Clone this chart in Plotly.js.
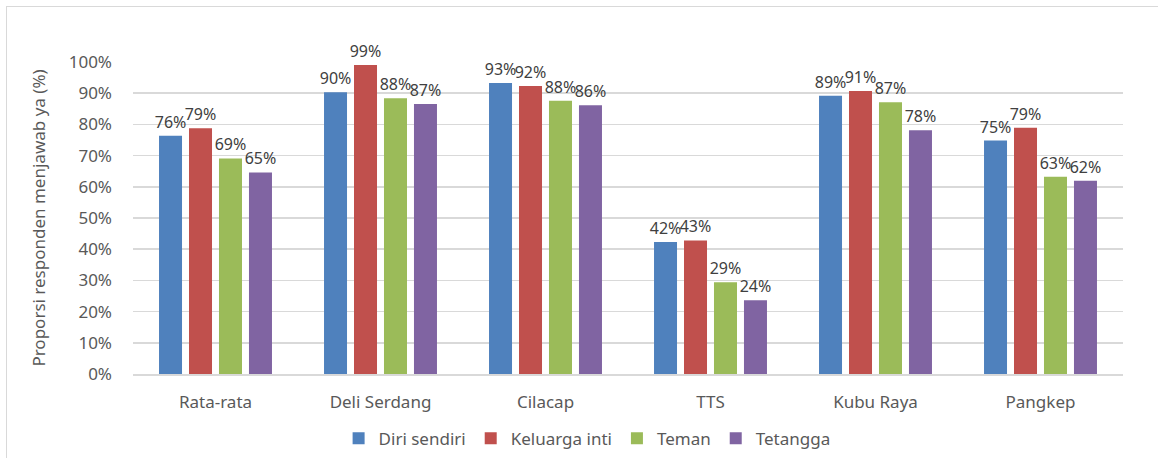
<!DOCTYPE html>
<html>
<head>
<meta charset="utf-8">
<script src="https://cdn.plot.ly/plotly-3.0.1.min.js"></script>
<style>
  html, body { margin: 0; padding: 0; background: #fff; }
  #wrap { position: relative; width: 1158px; height: 458px; }
  #chart { position: absolute; left: 0; top: 0; width: 1158px; height: 458px; }
  #frame { position: absolute; left: 6px; top: 6px; width: 1160px; height: 470px;
           border-left: 1px solid #d9d9d9; border-top: 1px solid #d9d9d9; pointer-events: none; }
</style>
</head>
<body>
<div id="wrap">
  <div id="chart"></div>
  <div id="frame"></div>
</div>
<script>
const categories = ["Rata-rata", "Deli Serdang", "Cilacap", "TTS", "Kubu Raya", "Pangkep"];
const diriSendiri   = [0.764, 0.903, 0.933, 0.423, 0.892, 0.748];
const keluargaInti  = [0.788, 0.990, 0.923, 0.428, 0.907, 0.789];
const teman         = [0.691, 0.884, 0.876, 0.294, 0.871, 0.632];
const tetangga      = [0.646, 0.865, 0.861, 0.236, 0.781, 0.619];
const seriesNames   = ["Diri sendiri", "Keluarga inti", "Teman", "Tetangga"];
const seriesColors  = ["#4F81BD", "#C0504D", "#9BBB59", "#8064A2"];
const seriesValues  = [diriSendiri, keluargaInti, teman, tetangga];

const FONT = "'Noto Sans', 'Open Sans', sans-serif";

const traces = seriesValues.map((vals, i) => ({
  type: "bar",
  name: seriesNames[i],
  x: categories,
  y: vals,
  marker: { color: seriesColors[i] },
  texttemplate: "%{y:.0%}",
  textposition: "outside",
  constraintext: "none",
  cliponaxis: false,
  textfont: { family: FONT, size: 16, color: "#404040" },
  hoverinfo: "skip"
}));

const layout = {
  width: 1158,
  height: 458,
  margin: { l: 133, r: 35, t: 62, b: 84 },
  paper_bgcolor: "#ffffff",
  plot_bgcolor: "#ffffff",
  barmode: "group",
  bargap: 0.273,
  bargroupgap: 0.233,
  font: { family: FONT, color: "#595959" },
  showlegend: true,
  legend: {
    orientation: "h",
    xref: "container", yref: "container",
    x: 0.507, xanchor: "center",
    y: 0.042, yanchor: "middle",
    font: { family: FONT, size: 17, color: "#595959" },
    itemwidth: 30,
    traceorder: "normal"
  },
  xaxis: {
    type: "category",
    showgrid: false,
    showline: true,
    linecolor: "#d9d9d9",
    linewidth: 1.5,
    ticks: "",
    ticklabelstandoff: 12,
    tickfont: { family: FONT, size: 17, color: "#595959" },
    fixedrange: true
  },
  yaxis: {
    range: [0, 1],
    dtick: 0.1,
    tick0: 0,
    tickformat: ".0%",
    showgrid: true,
    gridcolor: "#d9d9d9",
    gridwidth: 1.5,
    zeroline: false,
    showline: false,
    ticks: "",
    ticklabelstandoff: 20,
    automargin: true,
    tickfont: { family: FONT, size: 17, color: "#595959" },
    title: { text: "Proporsi responden menjawab ya (%)", standoff: 18,
             font: { family: FONT, size: 17, color: "#595959" } },
    fixedrange: true
  }
};

Plotly.newPlot("chart", traces, layout, { displayModeBar: false, staticPlot: true });
</script>
</body>
</html>
